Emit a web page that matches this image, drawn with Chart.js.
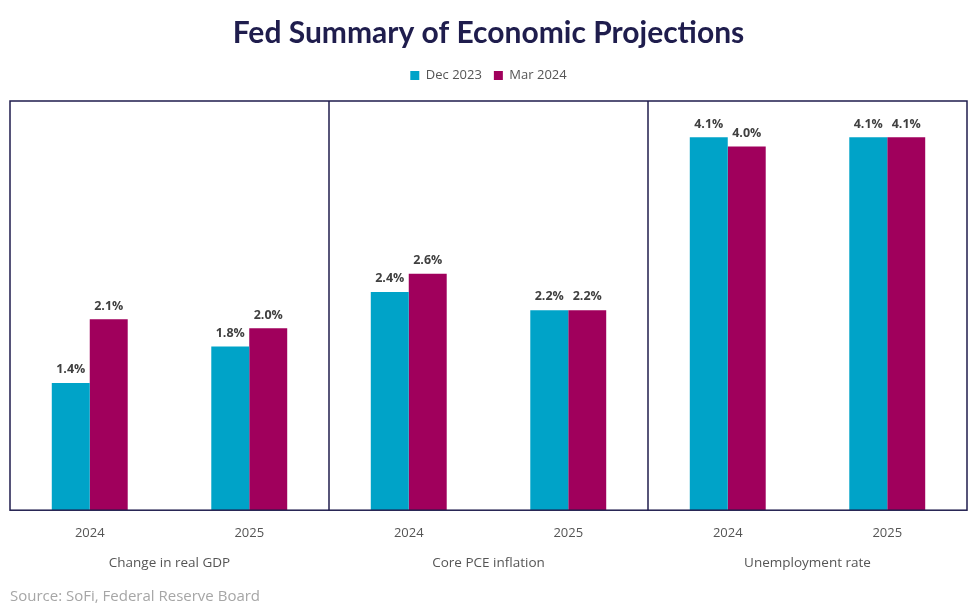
<!DOCTYPE html>
<html><head><meta charset="utf-8">
<script src="https://cdn.jsdelivr.net/npm/chart.js@4.4.1/dist/chart.umd.min.js"></script>
<style>html,body{margin:0;padding:0;background:#fff}#wrap{width:975px;height:608px}</style>
</head><body><div id="wrap"><canvas id="c" width="975" height="608"></canvas></div>
<script>
const categories = ['2024','2025','2024 ','2025 ','2024  ','2025  '];
const groups = ['Change in real GDP','Core PCE inflation','Unemployment rate'];
const dec2023 = [1.4, 1.8, 2.4, 2.2, 4.1, 4.1];
const mar2024 = [2.1, 2.0, 2.6, 2.2, 4.0, 4.1];
const seriesNames = ['Dec 2023','Mar 2024'];

const NAVY = '#1f1d4d';
const TEAL = '#00a3c8';
const MAG = '#a0005c';

const legendGap = {
  id:'legendGap',
  afterInit(chart){
    const lg = chart.legend;
    const orig = lg.fit;
    lg.fit = function(){ orig.call(this); this.height += 9; };
  }
};

const frame = {
  id:'frame',
  afterDatasetsDraw(chart){
    const {ctx, chartArea:a} = chart;
    const xs = chart.scales.x;
    ctx.save();
    ctx.strokeStyle = NAVY; ctx.lineWidth = 1.5;
    ctx.strokeRect(a.left, a.top, a.right-a.left, a.bottom-a.top);
    for (let i=1;i<groups.length;i++){
      const p = (xs.getPixelForValue(i*2-1) + xs.getPixelForValue(i*2))/2;
      ctx.beginPath(); ctx.moveTo(p, a.top); ctx.lineTo(p, a.bottom); ctx.stroke();
    }
    ctx.fillStyle = '#404040';
    ctx.font = 'bold 12.5px "Open Sans", sans-serif';
    ctx.textAlign = 'center'; ctx.textBaseline = 'bottom';
    chart.data.datasets.forEach((ds, di) => {
      chart.getDatasetMeta(di).data.forEach((bar, i) => {
        ctx.fillText(ds.data[i].toFixed(1) + '%', bar.x, bar.y - 7);
      });
    });
    ctx.restore();
  }
};

new Chart(document.getElementById('c'), {
  type:'bar',
  data:{
    labels: categories,
    datasets:[
      {label: seriesNames[0], data: dec2023, backgroundColor: TEAL, xAxisID:'x'},
      {label: seriesNames[1], data: mar2024, backgroundColor: MAG, xAxisID:'x'}
    ]
  },
  options:{
    responsive:false, animation:false,
    layout:{padding:{left:10, right:8, top:0, bottom:0}},
    datasets:{bar:{categoryPercentage:0.476, barPercentage:1.0}},
    plugins:{
      title:{display:true, text:'Fed Summary of Economic Projections', color:NAVY,
        font:{family:'Lato', size:30, weight:'bold', lineHeight:1.0}, padding:{top:18, bottom:9}},
      legend:{display:true, labels:{boxWidth:9, boxHeight:9, color:'#555', padding:12,
        font:{family:'"Open Sans"', size:13}}},
      subtitle:{display:true, position:'bottom', align:'start', text:'Source: SoFi, Federal Reserve Board',
        color:'#a6a6a6', font:{family:'"Open Sans"', size:15}, padding:{top:18, bottom:2}},
      tooltip:{enabled:false}
    },
    scales:{
      x:{grid:{display:false, drawTicks:false}, border:{display:false},
        ticks:{color:'#555', font:{family:'"Open Sans"', size:13}, padding:15, maxRotation:0,
          callback:(v,i)=>categories[i].trim()}},
      g:{type:'category', labels:groups, position:'bottom', grid:{display:false, drawTicks:false}, border:{display:false},
        ticks:{color:'#555', font:{family:'"Open Sans"', size:13.5}, padding:-1}},
      y:{display:false, min:0, max:4.5}
    }
  },
  plugins:[legendGap, frame]
});
</script></body></html>
